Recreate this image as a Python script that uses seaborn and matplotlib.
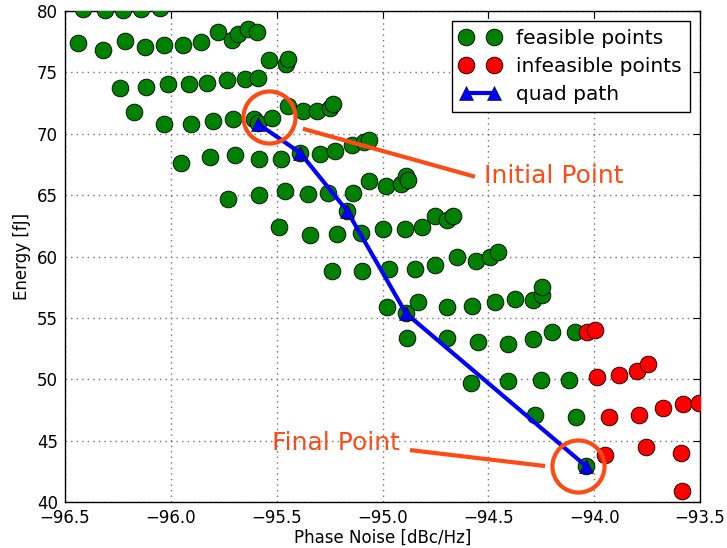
import matplotlib
matplotlib.use("Agg")
import matplotlib.pyplot as plt
from matplotlib.lines import Line2D
import seaborn as sns
import pandas as pd

# Design points: phase noise [dBc/Hz] vs energy [fJ]
feasible_pn = [
    -96.415, -96.311, -96.226, -96.141, -96.051,
    -96.439, -96.320, -96.217, -96.122, -96.032, -95.943, -95.857, -95.777,
    -95.711, -95.683, -95.635, -95.593, -95.536, -95.456, -95.446,
    -96.240, -96.117, -96.013, -95.914, -95.829, -95.735, -95.650, -95.588,
    -96.174, -96.032, -95.905, -95.801, -95.706, -95.607, -95.588, -95.522,
    -95.446, -95.376, -95.309, -95.248, -95.234,
    -95.952, -95.815, -95.697, -95.583, -95.480, -95.390, -95.295, -95.224,
    -95.144, -95.087, -95.064,
    -95.730, -95.583, -95.461, -95.352, -95.258, -95.168, -95.139, -95.064,
    -94.983, -94.913, -94.889, -94.880,
    -95.489, -95.343, -95.215, -95.102, -94.998, -94.894, -94.813, -94.752,
    -94.695, -94.667,
    -95.239, -95.097, -94.969, -94.847, -94.752, -94.648, -94.558, -94.492,
    -94.454,
    -94.979, -94.889, -94.832, -94.695, -94.577, -94.469, -94.374, -94.289,
    -94.247, -94.247,
    -94.884, -94.695, -94.549, -94.407, -94.289, -94.199, -94.091,
    -94.582, -94.407, -94.251, -94.119,
    -94.280, -94.086,
    -94.039,
]
feasible_energy = [
    80.20, 80.10, 80.10, 80.20, 80.25,
    77.40, 76.83, 77.56, 77.07, 77.24, 77.24, 77.48, 78.29,
    77.64, 78.13, 78.54, 78.29, 76.02, 75.69, 76.10,
    73.74, 73.82, 74.07, 74.07, 74.15, 74.39, 74.47, 74.55,
    71.79, 70.81, 70.81, 71.06, 71.22, 71.22, 70.85, 71.30,
    72.28, 71.87, 71.87, 72.11, 72.44,
    67.64, 68.13, 68.29, 67.97, 67.97, 68.46, 68.37, 68.62,
    69.11, 69.35, 69.51,
    64.72, 65.04, 65.37, 65.12, 65.20, 63.74, 65.20, 66.18,
    65.77, 65.93, 66.59, 66.26,
    62.44, 61.79, 61.87, 61.95, 62.20, 62.28, 62.44, 63.33,
    63.01, 63.33,
    58.78, 58.78, 59.02, 59.02, 59.27, 59.92, 59.67, 60.00,
    60.33,
    55.85, 55.37, 56.26, 55.85, 55.93, 56.26, 56.50, 56.42,
    56.83, 57.48,
    53.33, 53.33, 53.01, 52.85, 53.25, 53.82, 53.82,
    49.67, 49.84, 49.92, 49.92,
    47.07, 46.91,
    42.93,
]

infeasible_pn = [
    -94.034, -93.996,
    -93.987, -93.883, -93.798, -93.746,
    -93.930, -93.788, -93.675, -93.580, -93.505,
    -93.949, -93.755, -93.590, -93.585,
]
infeasible_energy = [
    53.82, 53.98,
    50.16, 50.33, 50.65, 51.22,
    46.91, 47.07, 47.64, 47.97, 48.05,
    43.82, 44.47, 43.98, 40.89,
]

# Optimisation path from the initial to the final design
path_pn = [-95.588, -95.390, -95.168, -94.889, -94.039]
path_energy = [70.81, 68.46, 63.74, 55.37, 42.93]

# Highlighted designs
initial_point = (-95.536, 71.38)
final_point = (-94.076, 42.93)

x_ticks = [-96.5, -96.0, -95.5, -95.0, -94.5, -94.0, -93.5]
y_ticks = [40, 45, 50, 55, 60, 65, 70, 75, 80]

feasible = pd.DataFrame({"pn": feasible_pn, "energy": feasible_energy})
infeasible = pd.DataFrame({"pn": infeasible_pn, "energy": infeasible_energy})
path = pd.DataFrame({"pn": path_pn, "energy": path_energy})

sns.set_style("white")
plt.rcParams["font.family"] = ["DejaVu Sans"]
plt.rcParams["text.color"] = "black"
plt.rcParams["axes.labelcolor"] = "black"

fig = plt.figure(figsize=(7.27, 5.48), dpi=100)
ax = fig.add_axes([65 / 727, 1 - 502 / 548, 635 / 727, 491 / 548])

accent = "#ff4a14"

sns.scatterplot(data=feasible, x="pn", y="energy", color="green", s=145,
                edgecolor="black", linewidth=0.6, ax=ax, zorder=3, legend=False)
sns.scatterplot(data=infeasible, x="pn", y="energy", color="red", s=145,
                edgecolor="black", linewidth=0.6, ax=ax, zorder=3, legend=False)
sns.lineplot(data=path, x="pn", y="energy", sort=False, estimator=None,
             color="blue", lw=3, marker="^", markersize=10,
             markeredgecolor="black", markeredgewidth=0.4, ax=ax, zorder=4)

# Circles around the initial and final designs
for cx, cy in (initial_point, final_point):
    ax.plot([cx], [cy], marker="o", markersize=37.5, markerfacecolor="none",
            markeredgecolor=accent, markeredgewidth=3, zorder=5, clip_on=False)

# Callout lines and labels
ax.plot([-95.376, -94.563], [70.41, 66.50], color=accent, lw=3,
        solid_capstyle="butt", zorder=5)
ax.text(-94.521, 66.59, "Initial Point", color=accent, fontsize=18,
        ha="left", va="center", zorder=6)
ax.plot([-94.870, -94.232], [44.23, 42.93], color=accent, lw=3,
        solid_capstyle="butt", zorder=5)
ax.text(-94.917, 44.80, "Final Point", color=accent, fontsize=18,
        ha="right", va="center", zorder=6)

ax.set_xlim(-96.5, -93.5)
ax.set_ylim(40, 80)
ax.set_xticks(x_ticks)
ax.set_yticks(y_ticks)
ax.set_xticklabels([f"{t:.1f}".replace("-", "\u2212") for t in x_ticks])
ax.set_yticklabels([str(t) for t in y_ticks])
ax.tick_params(direction="in", length=5, width=0.8, top=True, right=True,
               labelsize=12, colors="black", pad=5)
ax.grid(True, color="0.45", linestyle=(0, (1, 3)), linewidth=1.0)
ax.set_axisbelow(True)
for sp in ax.spines.values():
    sp.set_color("black")
    sp.set_linewidth(1.0)

ax.set_xlabel("Phase Noise [dBc/Hz]", fontsize=12, labelpad=1)
ax.set_ylabel("Energy [fJ]", fontsize=12, labelpad=4)

handles = [
    Line2D([], [], linestyle="none", marker="o", markersize=12,
           markerfacecolor="green", markeredgecolor="black", markeredgewidth=0.6),
    Line2D([], [], linestyle="none", marker="o", markersize=12,
           markerfacecolor="red", markeredgecolor="black", markeredgewidth=0.6),
    Line2D([], [], color="blue", lw=3, marker="^", markersize=10,
           markeredgecolor="black", markeredgewidth=0.4),
]
leg = ax.legend(handles, ["feasible points", "infeasible points", "quad path"],
                loc="upper right", numpoints=2, fontsize=14.5, fancybox=False,
                framealpha=1, edgecolor="black", borderpad=0.4,
                handlelength=2.0, handletextpad=0.8, labelspacing=0.45)
leg.get_frame().set_linewidth(1.0)
leg.set_zorder(10)

fig.savefig("out.png", dpi=100)
